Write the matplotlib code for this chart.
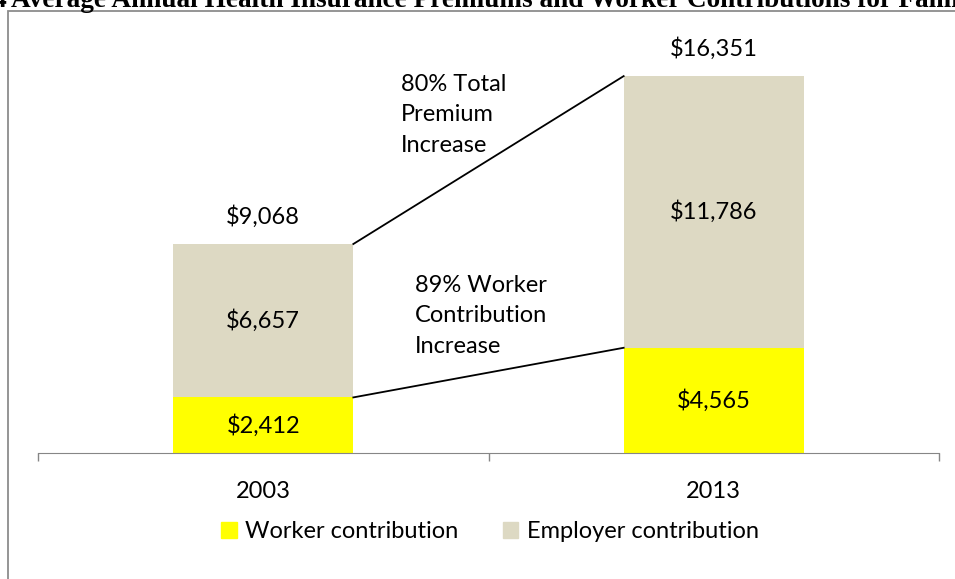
import matplotlib.pyplot as plt
from matplotlib.patches import Rectangle, Patch

plt.rcParams["font.family"] = ["Lato", "DejaVu Sans"]

years = ["2003", "2013"]
worker = [2412, 4565]
employer = [6657, 11786]
totals = [9068, 16351]
worker_lbl = ["$2,412", "$4,565"]
employer_lbl = ["$6,657", "$11,786"]
total_lbl = ["$9,068", "$16,351"]

YELLOW = "#FFFF00"
TAN = "#DDD9C3"
GREY = "#868686"
FS = 17

W, H = 955, 579
fig = plt.figure(figsize=(W / 100, H / 100), dpi=100)

# page frame, cut off on the right and bottom like the source
fig.patches.append(Rectangle((8 / W, -0.1), 1.2, 1 - 11 / H + 0.1,
                             transform=fig.transFigure, fill=False,
                             ec="#8c8c8c", lw=1.3, zorder=0))
fig.text(7 / W, 1 - 7 / H, "Exhibit 4", ha="right", va="baseline",
         family="Liberation Serif", weight="bold", fontsize=19.6)
fig.text(11 / W, 1 - 7 / H,
         "Average Annual Health Insurance Premiums and Worker "
         "Contributions for Family Coverage, 2003-2013",
         ha="left", va="baseline", family="Liberation Serif",
         weight="bold", fontsize=19.6)

ax = fig.add_axes([38 / W, 126 / H, 901 / W, 423 / H])
x = [0, 1]
bw = 0.4
ax.bar(x, worker, bw, color=YELLOW, label="Worker contribution")
ax.bar(x, employer, bw, bottom=worker, color=TAN,
       label="Employer contribution")

for i in x:
    ax.text(i, worker[i] / 2, worker_lbl[i], ha="center", va="center",
            fontsize=FS)
    ax.text(i, worker[i] + employer[i] / 2, employer_lbl[i], ha="center",
            va="center", fontsize=FS)
    ax.annotate(total_lbl[i], (i, totals[i]), xytext=(0, 20),
                textcoords="offset points", ha="center", va="center",
                fontsize=FS)

# connector lines between bar edges
ax.plot([bw / 2, 1 - bw / 2], [totals[0], totals[1]], color="black", lw=1.3)
ax.plot([bw / 2, 1 - bw / 2], [worker[0], worker[1]], color="black", lw=1.3)
ax.text(0.306, 16443, "80% Total\nPremium\nIncrease", ha="left", va="top",
        fontsize=FS, linespacing=1.55)
ax.text(0.337, 7722, "89% Worker\nContribution\nIncrease", ha="left",
        va="top", fontsize=FS, linespacing=1.55)

ax.set_xlim(-0.5, 1.5)
ax.set_ylim(0, 18352)
ax.set_yticks([])
for s in ["top", "left", "right"]:
    ax.spines[s].set_visible(False)
ax.spines["bottom"].set_color(GREY)
ax.set_xticks(x)
ax.set_xticklabels(years, fontsize=FS)
ax.tick_params(axis="x", which="major", length=0, pad=20)
ax.set_xticks([-0.5, 0.5, 1.5], minor=True)
ax.tick_params(axis="x", which="minor", length=6, color=GREY, width=1)

handles = [Patch(color=YELLOW), Patch(color=TAN)]
fig.legend(handles, ["Worker contribution", "Employer contribution"],
           loc="center", bbox_to_anchor=(490 / W, 47 / H), ncol=2,
           frameon=False, fontsize=FS, handlelength=0.65, handleheight=0.65,
           handletextpad=0.35, columnspacing=1.9)

fig.savefig("out.png", dpi=100)
